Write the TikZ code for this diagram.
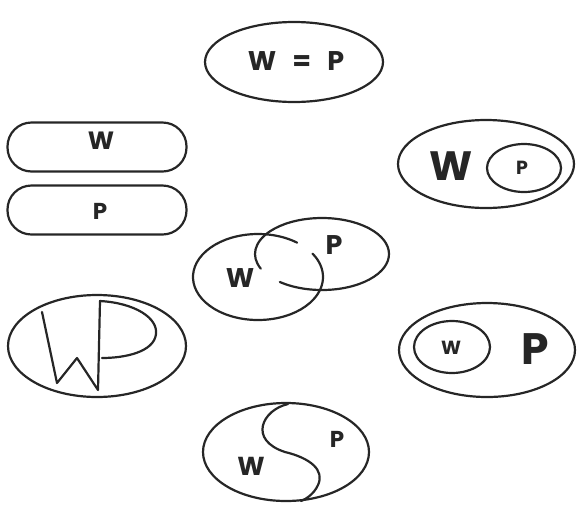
\documentclass[tikz,border=0pt]{standalone}
\usepackage{fontspec}
\setmainfont{Poppins}
\usetikzlibrary{shapes.geometric}
\tikzset{
  ln/.style={draw=black!85, line width=2.2pt},
  ell/.style={ln, ellipse, inner sep=0pt},
  lbl/.style={inner sep=0pt, text=black!85},
}
\newcommand{\fs}[1]{\fontsize{#1}{#1}\selectfont\bfseries}
\begin{document}
\begin{tikzpicture}[x=1pt, y=-1pt, line join=round, line cap=round]
\useasboundingbox (0,0) rectangle (577,504);
% top: W = P
\node[ell, minimum width=178pt, minimum height=80pt] (eq) at (294,62) {};
\node[lbl, font=\fs{27}] (eqt) at (296,61) {W\hspace{0.6em}=\hspace{0.6em}P};
% separate stadiums
\node[ln, rounded corners=24pt, minimum width=179pt, minimum height=49pt, inner sep=0pt] (sw) at (97,147) {};
\node[lbl, font=\fs{25}] (swt) at (101,141) {W};
\node[ln, rounded corners=24pt, minimum width=179pt, minimum height=49pt, inner sep=0pt] (sp) at (97,210) {};
\node[lbl, font=\fs{23}] (spt) at (100,211) {P};
% W contains P
\node[ell, minimum width=176pt, minimum height=88pt] (wo) at (486,164) {};
\node[lbl, font=\fs{41}] (wot) at (451,166) {W};
\node[ell, minimum width=74pt, minimum height=48pt] (wi) at (524,168) {};
\node[lbl, font=\fs{19}] (wit) at (522,168) {P};
% overlapping Venn
\coordinate (vw) at (258,277);
\coordinate (vp) at (322,254);
\draw[ln] ([shift={(53:65pt and 43pt)}]vw) arc[start angle=53, end angle=393, x radius=65pt, y radius=43pt];
\draw[ln] ([shift={(231:67pt and 36pt)}]vp) arc[start angle=231, end angle=564, x radius=67pt, y radius=36pt];
\node[lbl, font=\fs{27}] (vwt) at (240,278) {W};
\node[lbl, font=\fs{27}] (vpt) at (334,245) {P};
% WP ligature
\node[ell, minimum width=178pt, minimum height=102pt] (lg) at (97,346) {};
\draw[ln] (42,312) -- (57,383) -- (77,358) -- (98,390) -- (100,301)
  .. controls (135,303) and (158,318) .. (156,334)
  .. controls (154,352) and (125,358) .. (102,358);
% P contains W
\node[ell, minimum width=176pt, minimum height=94pt] (po) at (487,350) {};
\node[ell, minimum width=76pt, minimum height=52pt] (pi) at (452,347) {};
\node[lbl, font=\fs{19}] (pit) at (451,348) {W};
\node[lbl, font=\fs{44}] (pot) at (535,349) {P};
% yin-yang
\node[ell, minimum width=166pt, minimum height=98pt] (yy) at (286,452) {};
\draw[ln] (288,404) .. controls (262,410) and (248,440) .. (285,452)
  .. controls (310,458) and (325,470) .. (318,485)
  .. controls (314,494) and (306,499) .. (301,501);
\node[lbl, font=\fs{26}] (yyw) at (251,466) {W};
\node[lbl, font=\fs{23}] (yyp) at (337,439) {P};
\end{tikzpicture}
\end{document}
